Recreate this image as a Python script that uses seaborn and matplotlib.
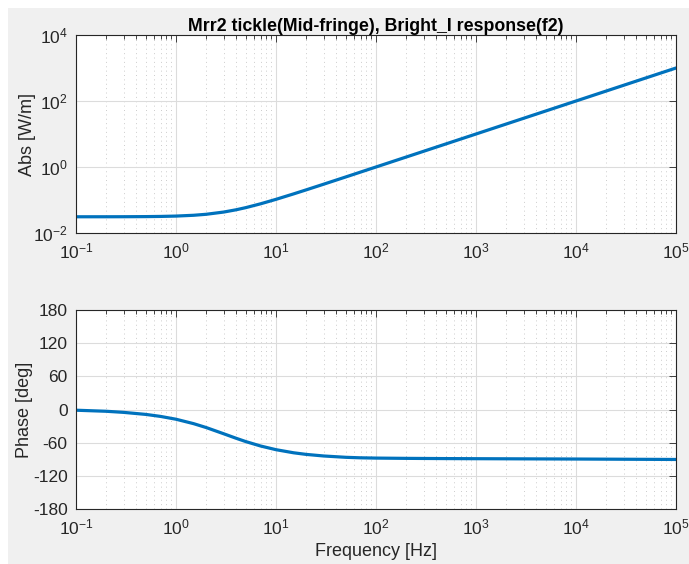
import numpy as np
import pandas as pd
import matplotlib
matplotlib.use("Agg")
import matplotlib.pyplot as plt
from matplotlib.patches import Rectangle
from matplotlib.ticker import LogLocator, FixedLocator, NullFormatter
import seaborn as sns

# Transfer function samples: frequency [Hz], magnitude [W/m], phase [deg]
freq_hz = [0.1, 0.2, 0.3, 0.5, 0.7, 1, 1.5, 2, 3, 4, 5, 7, 10, 15, 20, 30,
           50, 70, 100, 200, 500, 1e3, 1e4, 1e5]
abs_wm = [0.03102, 0.03106, 0.03114, 0.03140, 0.03178, 0.03257, 0.03444,
          0.03689, 0.04314, 0.05060, 0.05883, 0.07656, 0.1047, 0.1532,
          0.2024, 0.3016, 0.5010, 0.7007, 1.0005, 2.0, 5.0, 10.0, 100.0,
          1000.0]
phase_deg = [-1.3, -3.2, -5.2, -8.9, -12.5, -17.6, -25.6, -32.6, -43.9,
             -52.1, -58.1, -66.0, -72.7, -78.3, -81.2, -84.1, -86.5, -87.4,
             -87.9, -88.4, -88.8, -89.0, -89.6, -90.4]

x_ticks = [0.1, 1, 10, 100, 1e3, 1e4, 1e5]
x_ticklabels = [r"$10^{-1}$", r"$10^{0}$", r"$10^{1}$", r"$10^{2}$",
                r"$10^{3}$", r"$10^{4}$", r"$10^{5}$"]
abs_ticks = [1e-2, 1, 1e2, 1e4]
abs_ticklabels = [r"$10^{-2}$", r"$10^{0}$", r"$10^{2}$", r"$10^{4}$"]
phase_ticks = [-180, -120, -60, 0, 60, 120, 180]

df = pd.DataFrame({"f": freq_hz, "abs": abs_wm, "phase": phase_deg})

sns.set_style("white")
plt.rcParams["font.family"] = ["Liberation Sans", "DejaVu Sans"]
plt.rcParams["mathtext.fontset"] = "custom"
plt.rcParams["mathtext.rm"] = "Liberation Sans"
plt.rcParams["mathtext.it"] = "Liberation Sans"
plt.rcParams["mathtext.default"] = "regular"
plt.rcParams["axes.unicode_minus"] = False

W, H = 689, 564
fig = plt.figure(figsize=(W / 100, H / 100), dpi=100, facecolor="white")
# grey window background
fig.patches.append(Rectangle((8 / W, 0), 1 - 8 / W, 1 - 8 / H,
                             transform=fig.transFigure, facecolor="#f0f0f0",
                             edgecolor="none", zorder=-10))

ax1 = fig.add_axes([76 / W, 1 - 233 / H, 600 / W, 198 / H])
ax2 = fig.add_axes([76 / W, 1 - 509 / H, 600 / W, 199 / H])

line_color = "#0072BD"
edge = "#262626"

sns.lineplot(data=df, x="f", y="abs", ax=ax1, color=line_color, lw=2.3)
sns.lineplot(data=df, x="f", y="phase", ax=ax2, color=line_color, lw=2.3)

for ax in (ax1, ax2):
    ax.set_facecolor("white")
    ax.set_xscale("log")
    ax.set_xlim(0.1, 1e5)
    ax.xaxis.set_major_locator(FixedLocator(x_ticks))
    ax.set_xticklabels(x_ticklabels)
    ax.xaxis.set_minor_locator(LogLocator(base=10, subs=np.arange(2, 10)))
    ax.xaxis.set_minor_formatter(NullFormatter())
    for s in ax.spines.values():
        s.set_color(edge)
        s.set_linewidth(0.8)
    ax.tick_params(axis="both", which="both", direction="in", top=True,
                   right=True, colors=edge, labelsize=12.5, labelcolor=edge)
    ax.tick_params(which="major", length=5, width=0.6, pad=6)
    ax.tick_params(which="minor", length=3, width=0.6)
    ax.grid(True, which="major", color="#dcdcdc", lw=0.8, ls="-")
    ax.grid(True, which="minor", axis="x", color="#cccccc", lw=0.7,
            ls=(0, (1, 3.5)))
    ax.set_axisbelow(True)

ax1.set_yscale("log")
ax1.set_ylim(1e-2, 1e4)
ax1.yaxis.set_major_locator(FixedLocator(abs_ticks))
ax1.set_yticklabels(abs_ticklabels)
ax1.yaxis.set_minor_locator(FixedLocator([]))
ax1.set_xlabel("")
ax1.set_ylabel("Abs [W/m]", fontsize=13, color=edge, labelpad=-2.5)
ax1.set_title("Mrr2 tickle(Mid-fringe), Bright_I response(f2)",
              fontsize=12.8, fontweight="bold", color="black", pad=3)

ax2.set_ylim(-180, 180)
ax2.yaxis.set_major_locator(FixedLocator(phase_ticks))
ax2.set_ylabel("Phase [deg]", fontsize=13, color=edge, labelpad=0)
ax2.set_xlabel("Frequency [Hz]", fontsize=13, color=edge, labelpad=4)

fig.savefig("out.png", dpi=100, facecolor=fig.get_facecolor())
